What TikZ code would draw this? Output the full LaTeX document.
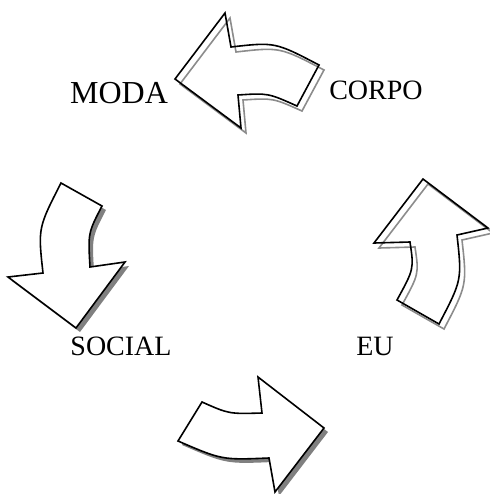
\documentclass[tikz,border=0pt]{standalone}
\usepackage{fontspec}
\setmainfont{Liberation Serif}

% contornos das quatro setas (unidades em pixels da figura)
\def\setatopo{(175,79) -- (225,13) -- (231,47) .. controls (275,42) .. (319,65) -- (297,106) .. controls (268,93) .. (238,95) -- (241,128) -- cycle}
\def\setaesq{(61,183) -- (102,206) .. controls (88,233) .. (90,267) -- (125,262) -- (76,328) -- (8,277) -- (43,273) .. controls (38,228) .. cycle}
\def\setadir{(423,179) -- (488,228) -- (457,235) .. controls (462,280) .. (439,324) -- (397,300) .. controls (414,269) .. (410,242) -- (374,243) -- cycle}
\def\setabaixo{(202,402) .. controls (229,414) .. (262,413) -- (258,377) -- (324,428) -- (275,492) -- (269,458) .. controls (222,460) .. (178,441) -- cycle}

\begin{document}
\begin{tikzpicture}[
    x=0.5pt, y=-0.5pt,
    seta/.style={draw=black, line width=0.8pt, line join=miter},
    sombralinha/.style={draw=black!45, line width=0.8pt, shift={(5,5)}},
    sombracheia/.style={fill=black!50, shift={(4,4)}},
    rotulo/.style={anchor=base, inner sep=0pt, font=\fontsize{14}{16}\selectfont}
]
\useasboundingbox (0,0) rectangle (490,494);

% setas com sombra em contorno
\path[sombralinha] \setatopo;
\path[seta] \setatopo;
\path[sombralinha] \setadir;
\path[seta] \setadir;

% setas com sombra cheia
\path[sombracheia] \setaesq;
\path[seta, fill=white] \setaesq;
\path[sombracheia] \setabaixo;
\path[seta, fill=white] \setabaixo;

% rotulos
\node[rotulo, font=\fontsize{16}{18}\selectfont] (moda) at (119,103) {MODA};
\node[rotulo] (corpo) at (376,99) {CORPO};
\node[rotulo] (social) at (121,355) {SOCIAL};
\node[rotulo] (eu) at (375,355) {EU};

\end{tikzpicture}
\end{document}
